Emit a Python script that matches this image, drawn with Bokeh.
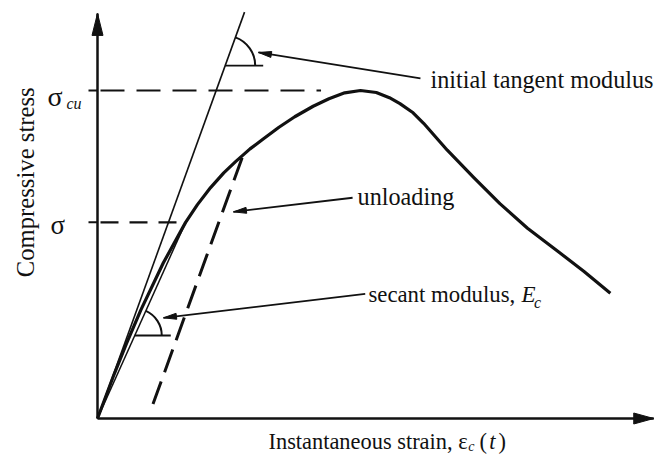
import numpy as np
from bokeh.plotting import figure
from bokeh.models import Range1d
from bokeh.core.properties import value
from bokeh.embed import file_html
from bokeh.resources import INLINE

# Concrete compressive stress-strain curve.
# Strain is normalised to the strain at peak stress, stress to sigma_cu.
strain = [0.0, 0.06, 0.11, 0.165, 0.25, 0.335, 0.38, 0.43, 0.48, 0.525, 0.58,
          0.63, 0.69, 0.75, 0.82, 0.88, 0.94, 1.0, 1.06, 1.11, 1.15, 1.2, 1.24,
          1.33, 1.43, 1.53, 1.635, 1.75, 1.85, 1.95]
stress = [0.0, 0.128, 0.228, 0.331, 0.474, 0.598, 0.652, 0.704, 0.749, 0.783, 0.822,
          0.852, 0.888, 0.92, 0.952, 0.975, 0.993, 1.0, 0.994, 0.978, 0.96, 0.932, 0.9,
          0.818, 0.735, 0.655, 0.58, 0.51, 0.448, 0.382]

sigma_cu = 1.0            # peak stress
sigma_level = 0.598       # working stress used for the secant modulus
strain_at_sigma = 0.335   # strain on the curve at sigma_level
initial_modulus = 2.216   # slope of the initial tangent
tangent_top = 1.239       # stress where the tangent line stops
unload_from = (0.55, 0.795)  # point on the curve where unloading starts
unload_to_stress = 0.043
axis_x_end = 2.115
axis_y_end = 1.235

W, H = 655, 454
X0, X1 = -97 / 263, 558 / 263
Y0, Y1 = -36 / 328, 418 / 328
SX = W / (X1 - X0)   # pixels per strain unit
SY = H / (Y1 - Y0)   # pixels per stress unit

p = figure(width=W, height=H, x_range=Range1d(X0, X1), y_range=Range1d(Y0, Y1),
           output_backend="svg", toolbar_location=None, min_border=0,
           background_fill_color="white", border_fill_color="white")
p.axis.visible = False
p.grid.visible = False
p.outline_line_color = None
p.title.visible = False

INK = "#111111"
FONT = value("Liberation Serif")


def head(tip, tail, length, width):
    """Filled arrowhead (in data units) with its point at tip, pointing away from tail."""
    dx = (tip[0] - tail[0]) * SX
    dy = (tip[1] - tail[1]) * SY
    n = np.hypot(dx, dy)
    ux, uy = dx / n, dy / n
    bx, by = -ux * length, -uy * length
    px, py = -uy * width / 2, ux * width / 2
    xs = [tip[0], tip[0] + (bx + px) / SX, tip[0] + (bx - px) / SX]
    ys = [tip[1], tip[1] + (by + py) / SY, tip[1] + (by - py) / SY]
    p.patch(xs, ys, color=INK, line_width=1)


def pointer(tail, tip, length=13, width=6):
    p.line([tail[0], tip[0]], [tail[1], tip[1]], line_color=INK, line_width=1.8)
    head(tip, tail, length, width)


# axes
p.line([0, axis_x_end], [0, 0], line_color=INK, line_width=2.5)
p.line([0, 0], [0, axis_y_end], line_color=INK, line_width=2.5)
head((axis_x_end, 0), (0, 0), 20, 11)
head((0, axis_y_end), (0, 0), 22, 11)

# stress level ticks and dashed guides
for lvl in (sigma_cu, sigma_level):
    p.line([-9 / SX, 0], [lvl, lvl], line_color=INK, line_width=2)
p.line([3 / SX, 0.85], [sigma_cu, sigma_cu], line_color=INK, line_width=2.2,
       line_dash="24 12")
p.line([3 / SX, strain_at_sigma], [sigma_level, sigma_level], line_color=INK,
       line_width=2.2, line_dash="18 11")

# initial tangent and secant
p.line([0, tangent_top / initial_modulus], [0, tangent_top], line_color=INK, line_width=1.6)
p.line([0, strain_at_sigma], [0, sigma_level], line_color=INK, line_width=1.5)

# unloading branch, parallel to the initial tangent
ux0, uy0 = unload_from
p.line([ux0, ux0 - (uy0 - unload_to_stress) / initial_modulus], [uy0, unload_to_stress],
       line_color=INK, line_width=3, line_dash="24 10")

# the stress-strain curve
p.line(strain, stress, line_color=INK, line_width=3.2, line_join="round")

# angle markers for the two moduli
tan_ang = np.arctan(initial_modulus * SY / SX)
sec_slope = sigma_level / strain_at_sigma
sec_ang = np.arctan(sec_slope * SY / SX)

t_lvl = 1.076
t_vx = t_lvl / initial_modulus
p.line([t_vx, t_vx + 38 / SX], [t_lvl, t_lvl], line_color=INK, line_width=1.8)
p.arc(x=[t_vx], y=[t_lvl], radius=30, radius_units="screen",
      start_angle=0, end_angle=tan_ang, line_color=INK, line_width=2)

s_lvl = 0.253
s_vx = s_lvl / sec_slope
p.line([s_vx, s_vx + 36 / SX], [s_lvl, s_lvl], line_color=INK, line_width=1.8)
p.arc(x=[s_vx], y=[s_lvl], radius=27, radius_units="screen",
      start_angle=0, end_angle=sec_ang, line_color=INK, line_width=2)

# leader arrows
pointer((1.228, 1.037), (0.612, 1.116))
pointer((0.970, 0.673), (0.517, 0.630))
pointer((1.018, 0.380), (0.251, 0.307))


def txt(x, y, s, size=23, style="normal", align="left", angle=0.0):
    # (x, y) is the baseline anchor; lift by the renderer's baseline offset
    lift = 0.3 * size
    if angle:
        x = x - lift / SX
    else:
        y = y + lift / SY
    p.text(x=[x], y=[y], text=[s], text_font=FONT, text_font_size=f"{size}px",
           text_font_style=style, text_align=align, text_baseline="alphabetic",
           text_color=INK, angle=angle)


txt(1.266, 1.012, "initial tangent modulus", size=24.2)
txt(0.989, 0.656, "unloading", size=24.2)
txt(1.030, 0.357, "secant modulus,", size=22.8)
txt(1.612, 0.357, "E", size=23, style="italic")
txt(1.660, 0.338, "c", size=16, style="italic")

# stress tick labels
txt(-0.19, 0.955, "σ", size=28)
txt(-0.118, 0.945, "cu", size=16, style="italic")
txt(-0.179, 0.564, "σ", size=27)

# axis titles
txt(-0.247, 0.72, "Compressive stress", size=24.7, align="center", angle=np.pi / 2)
txt(1.407, -0.091, "Instantaneous strain, ε", size=22.4, align="right")
txt(1.41, -0.097, "c", size=14, style="italic")
txt(1.452, -0.091, "(", size=22.4)
txt(1.49, -0.091, "t", size=22.4, style="italic")
txt(1.525, -0.091, ")", size=22.4)

open("out.html", "w").write(file_html(p, INLINE))
